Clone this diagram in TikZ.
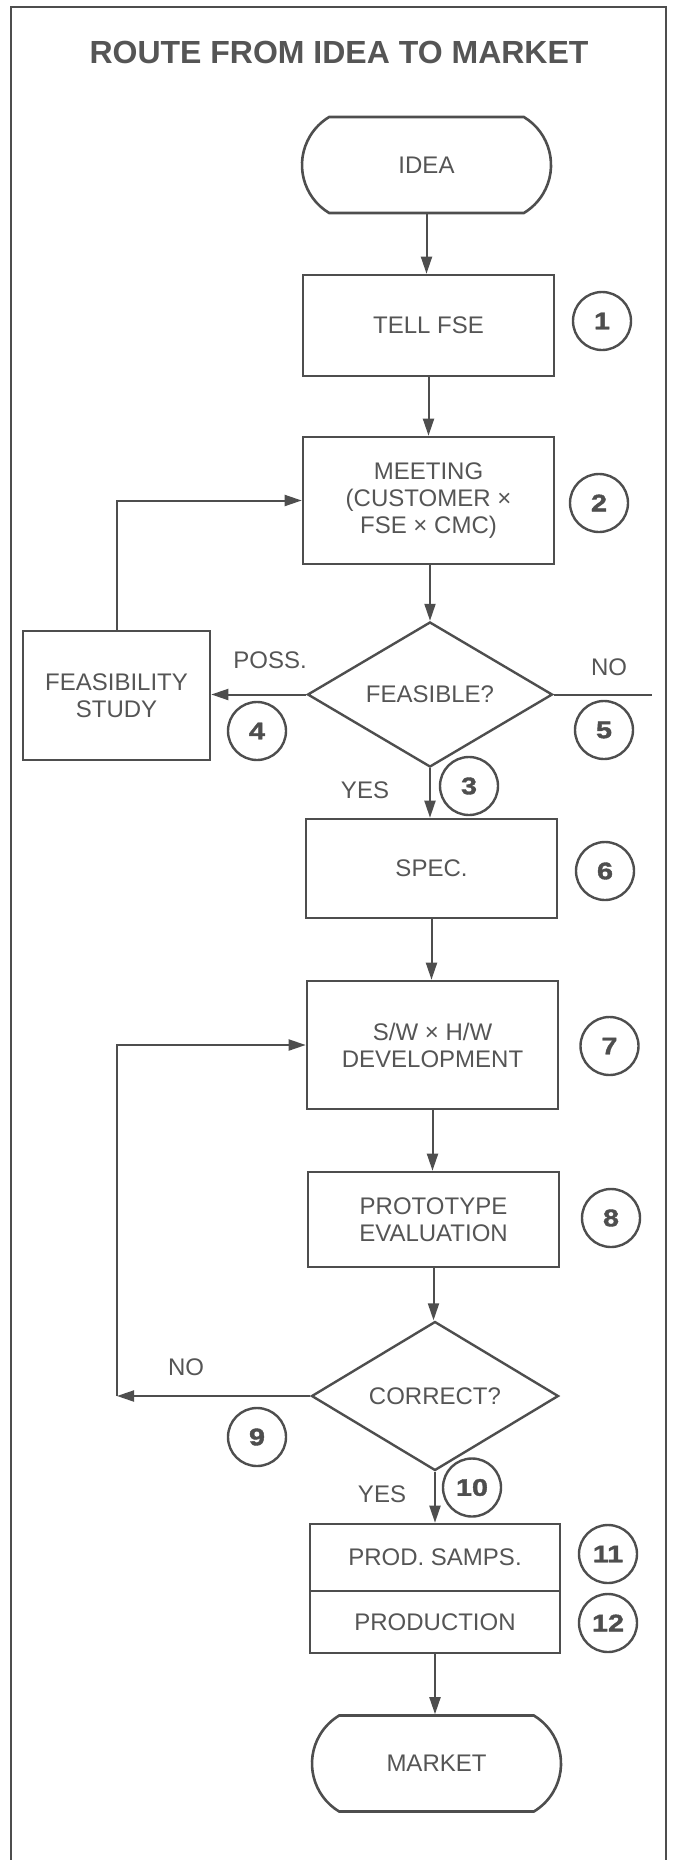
\documentclass[tikz,border=0pt]{standalone}
\usepackage{fontspec}
\setmainfont{Liberation Sans}
\newfontfamily\numfam{Liberation Sans}[FakeStretch=1.2,FakeBold=1.6]
\usetikzlibrary{shapes.geometric,shapes.misc,arrows.meta}
\definecolor{lc}{RGB}{78,78,78}
\definecolor{tc}{RGB}{85,85,85}
\newcommand\nodefont{\fontsize{24}{27}\selectfont}
\newcommand\numfont{\numfam\bfseries\fontsize{24}{24}\selectfont}
\newcommand\titlefont{\bfseries\fontsize{32}{32}\selectfont}
\tikzset{
  box/.style={draw=lc, line width=2.6pt, rectangle, text=tc, font=\nodefont, align=center, inner sep=0pt, minimum width=251pt},
  term/.style={draw=lc, line width=2.6pt, rounded rectangle, rounded rectangle arc length=118, text=tc, font=\nodefont, inner sep=0pt, minimum width=249pt, minimum height=96pt},
  decision/.style={draw=lc, line width=2.4pt, diamond, text=tc, font=\nodefont, inner sep=0pt},
  num/.style={circle, draw=lc, line width=2.4pt, minimum size=58pt, inner sep=0pt, text=lc, font=\numfont},
  lbl/.style={text=tc, font=\nodefont, inner sep=0pt},
  arr/.style={draw=lc, line width=2pt, -{Triangle[length=17pt,width=11pt]}},
  conn/.style={draw=lc, line width=2pt},
  frame/.style={draw=lc, line width=2pt}
}
\begin{document}
\begin{tikzpicture}[x=1pt,y=-1pt]
\useasboundingbox (0,0) rectangle (673,1860);
% frame (open at the bottom)
\draw[frame] (11,1860) -- (11,7) -- (666,7) -- (666,1860);
% title
\node[text=tc, font=\titlefont, inner sep=0pt] (title) at (339,52.5) {ROUTE FROM IDEA TO MARKET};
% main nodes
\node[term] (idea) at (426.5,165) {IDEA};
\node[box, minimum height=101pt] (tell) at (428.5,325.5) {TELL FSE};
\node[box, minimum height=127pt] (meet) at (428.5,500.5) {MEETING\\(CUSTOMER ×\\FSE × CMC)};
\node[box, minimum width=187pt, minimum height=129pt] (feas) at (116.5,695.5) {FEASIBILITY\\STUDY};
\node[decision, minimum width=245pt, minimum height=129pt] (fsb) at (430,694.5) {FEASIBLE?};
\node[box, minimum height=99pt] (spec) at (431.5,868.5) {SPEC.};
\node[box, minimum height=128pt] (sw) at (432.5,1045) {S/W × H/W\\DEVELOPMENT};
\node[box, minimum height=95pt] (proto) at (433.5,1219.5) {PROTOTYPE\\EVALUATION};
\node[decision, minimum width=247pt, minimum height=128pt] (corr) at (435,1396) {CORRECT?};
\node[box, minimum width=250pt, minimum height=67pt] (prod) at (435,1557.5) {PROD. SAMPS.};
\node[box, minimum width=250pt, minimum height=62pt] (pdn) at (435,1622) {PRODUCTION};
\node[term] (market) at (436.5,1763.5) {MARKET};
% numbered circles
\node[num] (n1) at (602,321) {1};
\node[num] (n2) at (599,503) {2};
\node[num] (n3) at (469,786) {3};
\node[num] (n4) at (257,731) {4};
\node[num] (n5) at (604,730) {5};
\node[num] (n6) at (605,871) {6};
\node[num] (n7) at (609.5,1046) {7};
\node[num] (n8) at (611,1218) {8};
\node[num] (n9) at (257,1437) {9};
\node[num] (n10) at (472,1487.5) {10};
\node[num] (n11) at (608,1554) {11};
\node[num] (n12) at (608,1623) {12};
% labels
\node[lbl] (lposs) at (270,660) {POSS.};
\node[lbl] (lno1) at (609,667) {NO};
\node[lbl] (lyes1) at (365,790) {YES};
\node[lbl] (lno2) at (186,1367) {NO};
\node[lbl] (lyes2) at (382,1494) {YES};
% coordinates
\coordinate (noend) at (652,694.5);
\coordinate (c9) at (117,1396);
% connectors
\draw[arr] (idea.south) -- (idea.south |- tell.north);
\draw[arr] (tell.south) -- (tell.south |- meet.north);
\draw[arr] (meet.south) -- (meet.south -| fsb.north) -- (fsb.north);
\draw[arr] (fsb.west) -- (fsb.west -| feas.east);
\draw[arr] (feas.north) |- (meet.west);
\draw[conn] (fsb.east) -- (noend);
\draw[arr] (fsb.south) -- (fsb.south |- spec.north);
\draw[arr] (spec.south) -- (spec.south |- sw.north);
\draw[arr] (sw.south) -- (sw.south |- proto.north);
\draw[arr] (proto.south) -- (proto.south |- corr.north);
\draw[arr] (corr.west) -- (c9);
\draw[arr] (c9) |- (sw.west);
\draw[arr] (corr.south) -- (corr.south |- prod.north);
\draw[arr] (pdn.south) -- (pdn.south |- market.north);
\end{tikzpicture}
\end{document}
